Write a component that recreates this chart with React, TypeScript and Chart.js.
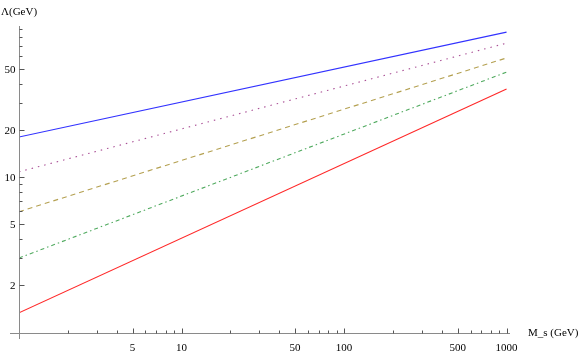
import React, { useEffect, useRef } from "react";
import { Chart, registerables } from "chart.js";

Chart.register(...registerables);

const xEnds = [1, 1000];
const seriesBlue = [18.1, 86];
const seriesPurple = [10.8, 73];
const seriesOlive = [5.97, 58.6];
const seriesGreen = [3.0, 47.5];
const seriesRed = [1.33, 37];

const xMajorTicks = [5, 10, 50, 100, 500, 1000];
const xMinorTicks = [2, 3, 4, 6, 7, 8, 9, 20, 30, 40, 60, 70, 80, 90, 200, 300, 400, 600, 700, 800, 900];
const yMajorTicks = [2, 5, 10, 20, 50];
const yMinorTicks = [3, 4, 6, 7, 8, 9, 30, 40, 60, 70, 80, 90];

const xTitle = "M_s (GeV)";
const yTitle = "Λ(GeV)";

const FONT = "11px 'Liberation Serif', 'DejaVu Serif', serif";

const axesPlugin = {
  id: "mmaAxes",
  afterDatasetsDraw(chart: any) {
    const ctx = chart.ctx;
    const xs = chart.scales.x;
    const ys = chart.scales.y;
    const area = chart.chartArea;
    const ax = Math.round(xs.getPixelForValue(xs.min)) + 0.5;
    const ay = Math.round(area.bottom) + 0.5;
    ctx.save();
    ctx.lineWidth = 1;
    ctx.strokeStyle = "#8a8a8a";
    ctx.beginPath();
    ctx.moveTo(area.left - 9, ay);
    ctx.lineTo(area.right, ay);
    ctx.moveTo(ax, area.top);
    ctx.lineTo(ax, area.bottom + 6);
    ctx.stroke();

    ctx.strokeStyle = "#555";
    ctx.beginPath();
    for (const v of xMajorTicks) {
      const p = Math.round(xs.getPixelForValue(v)) + 0.5;
      ctx.moveTo(p, ay);
      ctx.lineTo(p, ay - 5);
    }
    for (const v of xMinorTicks) {
      const p = Math.round(xs.getPixelForValue(v)) + 0.5;
      ctx.moveTo(p, ay);
      ctx.lineTo(p, ay - 3);
    }
    for (const v of yMajorTicks) {
      const p = Math.round(ys.getPixelForValue(v)) + 0.5;
      ctx.moveTo(ax, p);
      ctx.lineTo(ax + 5, p);
    }
    for (const v of yMinorTicks) {
      const p = Math.round(ys.getPixelForValue(v)) + 0.5;
      ctx.moveTo(ax, p);
      ctx.lineTo(ax + 3, p);
    }
    ctx.stroke();

    ctx.fillStyle = "#000";
    ctx.font = FONT;
    ctx.textAlign = "center";
    ctx.textBaseline = "middle";
    for (const v of xMajorTicks) {
      ctx.fillText(String(v), xs.getPixelForValue(v), ay + 15);
    }
    ctx.textAlign = "right";
    for (const v of yMajorTicks) {
      ctx.fillText(String(v), ax - 4, ys.getPixelForValue(v) + 1);
    }
    ctx.textAlign = "left";
    ctx.fillText(xTitle, area.right + 18, ay);
    ctx.fillText(yTitle, 1, 12);
    ctx.restore();
  },
};

function makeSet(vals: number[], color: string, dash: number[]) {
  return {
    data: xEnds.map((x, i) => ({ x, y: vals[i] })),
    borderColor: color,
    borderWidth: 1.1,
    borderDash: dash,
    pointRadius: 0,
    fill: false,
    tension: 0,
  };
}

export default function App() {
  const ref = useRef<HTMLCanvasElement>(null);
  useEffect(() => {
    document.body.style.margin = "0";
    const c = ref.current!;
    const chart = new Chart(c, {
      type: "line",
      data: {
        datasets: [
          makeSet(seriesBlue, "rgb(50,50,255)", []),
          makeSet(seriesPurple, "rgb(170,80,150)", [1.5, 5]),
          makeSet(seriesOlive, "rgb(180,160,80)", [5, 4]),
          makeSet(seriesGreen, "rgb(80,170,95)", [4, 3, 1.5, 3]),
          makeSet(seriesRed, "rgb(255,40,40)", []),
        ] as any,
      },
      options: {
        animation: false,
        responsive: false,
        devicePixelRatio: 1,
        layout: { padding: { left: 19, right: 71, top: 26, bottom: 21 } },
        plugins: { legend: { display: false }, tooltip: { enabled: false } },
        scales: {
          x: { type: "logarithmic", min: 1, max: 1050, display: false },
          y: { type: "logarithmic", min: 0.985, max: 94.2, display: false },
        },
      },
      plugins: [axesPlugin],
    });
    return () => chart.destroy();
  }, []);
  return <canvas ref={ref} width={581} height={354} style={{ display: "block" }} />;
}
